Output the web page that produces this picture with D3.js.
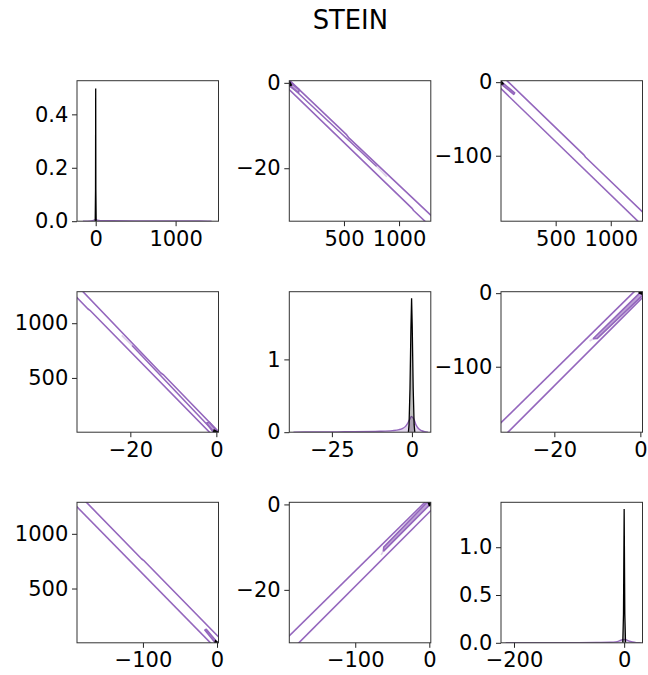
<!DOCTYPE html>
<html><head><meta charset="utf-8">
<script src="https://cdn.jsdelivr.net/npm/d3@7"></script>
<style>
html,body{margin:0;padding:0;background:#fff;}
svg text{font-family:"DejaVu Sans",sans-serif;}
</style></head>
<body><div id="chart"></div>
<script>
// ---------------- DATA ----------------
const title = "STEIN";
const varNames = ["var1", "var2", "var3"];
// axis limits of each variable in the off-diagonal panels
const var1Lim = [4, 1288];
const var2Lim = [-32.4, 0.5];
const var3Lim = [-189, 2];
// diagonal panel limits
const diag1XLim = [-234, 1537], diag1YLim = [0, 0.526];
const diag2XLim = [-38.3, 5.9], diag2YLim = [0, 1.93];
const diag3XLim = [-223.6, 33.3], diag3YLim = [0, 1.47];

// diagonal densities: purple = estimated, black = reference
const kde1X = [-160, -60, -20, 0, 20, 60, 200, 600, 1000, 1300, 1450];
const kde1Y = [0, 0.001, 0.004, 0.007, 0.004, 0.002, 0.0015, 0.0012, 0.001, 0.0008, 0];
const ref1X = [-6, -2, 0, 2, 6];
const ref1Y = [0, 0.12, 0.497, 0.12, 0];

const kde2X = [-37, -30, -20, -10, -6, -4, -3, -2, -1.5, -1, -0.5, -0.2, 0.3, 0.8, 1.2, 1.7, 2.3, 3.1, 4, 5];
const kde2Y = [0.001, 0.003, 0.006, 0.013, 0.022, 0.035, 0.05, 0.08, 0.11, 0.15, 0.19, 0.217, 0.2, 0.16, 0.11, 0.07, 0.04, 0.02, 0.006, 0.001];
const ref2X = [-1.1, -0.9, -0.6, -0.3, -0.1, 0.1, 0.4, 0.7, 0.9];
const ref2Y = [0, 0.1, 0.6, 1.45, 1.84, 1.45, 0.6, 0.1, 0];

const kde3X = [-215, -150, -100, -50, -25, -15, -8, -3, 0, 3, 8, 15, 22, 30];
const kde3Y = [0, 0.001, 0.002, 0.003, 0.005, 0.01, 0.022, 0.033, 0.035, 0.033, 0.02, 0.008, 0.002, 0];
const ref3X = [-2.5, -1.2, 0, 1.2, 2.5];
const ref3Y = [0, 0.3, 1.40, 0.3, 0];

// joint density contours, each point is [first variable, second variable]
// pair (var1, var2)
const c12Upper = [[-10, 0.98], [525, -12.2], [545, -12.9], [1300, -31.3]];
const c12Middle = [[6, -0.5], [797, -19.6]];
const c12MiddleFaint = [[797, -19.6], [889, -22.0]];
const c12Lower = [[-10, -1.25], [1118, -29.4], [1132, -29.9], [1300, -34.0]];
const c12Inner = [[6, 0.3], [95, -1.6], [88, -2.3], [3, -0.7], [6, 0.3]];
const c12Ref = [[4, 0.35], [22, -0.5], [10, -0.6], [4, 0.35]];
// pair (var1, var3)
const c13Upper = [[55, 2.5], [758, -99.2], [772, -102.0], [1300, -178]];
const c13Lower = [[-5, -7.6], [1260, -191]];
const c13Inner = [[12, 0], [128, -14.5], [120, -16.5], [5, -2.5], [12, 0]];
const c13Ref = [[4, 1.5], [22, -2], [8, -2.5], [4, 1.5]];
// pair (var2, var3)
const c23Upper = [[-33, -179.6], [-1.36, 2.5]];
const c23Lower = [[-31, -190.3], [0.6, -5.4]];
const c23Inner = [[-11.0, -62.0], [0.0, 1.0], [0.5, -3], [-10, -61.5], [-11.0, -62.0]];
const c23InnerFaint = [[-11.8, -65], [-10.6, -61]];
const c23Ref = [[-0.4, 0.5], [0.35, 1.8], [0.45, -1.2], [-0.4, 0.5]];

// tick values and labels per panel (row-major)
const xTickVals = [[0, 1000], [500, 1000], [500, 1000], [-20, 0], [-25, 0], [-20, 0], [-100, 0], [-100, 0], [-200, 0]];
const xTickLabels = [["0", "1000"], ["500", "1000"], ["500", "1000"], ["−20", "0"], ["−25", "0"], ["−20", "0"], ["−100", "0"], ["−100", "0"], ["−200", "0"]];
const yTickVals = [[0, 0.2, 0.4], [0, -20], [0, -100], [500, 1000], [0, 1], [0, -100], [500, 1000], [0, -20], [0, 0.5, 1.0]];
const yTickLabels = [["0.0", "0.2", "0.4"], ["0", "−20"], ["0", "−100"], ["500", "1000"], ["0", "1"], ["0", "−100"], ["500", "1000"], ["0", "−20"], ["0.0", "0.5", "1.0"]];

// ---------------- BUILD ----------------
const W = 648, H = 675;
const purple = "#9467bd";
const lims = [var1Lim, var2Lim, var3Lim];
const diagX = [diag1XLim, diag2XLim, diag3XLim];
const diagY = [diag1YLim, diag2YLim, diag3YLim];
const kdes = [[kde1X, kde1Y, ref1X, ref1Y], [kde2X, kde2Y, ref2X, ref2Y], [kde3X, kde3Y, ref3X, ref3Y]];
const pairContours = {
  "0-1": {lines: [c12Upper, c12Middle, c12Lower], inner: [c12Inner], faint: [c12MiddleFaint], ref: [c12Ref]},
  "0-2": {lines: [c13Upper, c13Lower], inner: [c13Inner], faint: [], ref: [c13Ref]},
  "1-2": {lines: [c23Upper, c23Lower], inner: [c23Inner], faint: [c23InnerFaint], ref: [c23Ref]}
};

const colLeft = [77, 289.3, 501];
const rowTop = [80.7, 291.7, 502.3];
const pw = 141.5, ph = 140.5;
const fontSize = 21;

const svg = d3.select("#chart").append("svg").attr("width", W).attr("height", H);
svg.append("rect").attr("width", W).attr("height", H).attr("fill", "#fff");

svg.append("text").attr("x", 350.3).attr("y", 29.3).attr("text-anchor", "middle")
  .attr("font-size", 25.8).attr("fill", "#000").text(title);

const defs = svg.append("defs");

for (let r = 0; r < 3; r++) {
  for (let c = 0; c < 3; c++) {
    const idx = r * 3 + c;
    const x0 = colLeft[c], y0 = rowTop[r];
    const g = svg.append("g").attr("transform", `translate(${x0},${y0})`);
    const clipId = `clip${idx}`;
    defs.append("clipPath").attr("id", clipId).append("rect").attr("width", pw).attr("height", ph);
    const plot = g.append("g").attr("clip-path", `url(#${clipId})`);
    let xs, ys;
    if (r === c) {
      xs = d3.scaleLinear().domain(diagX[r]).range([0, pw]);
      ys = d3.scaleLinear().domain(diagY[r]).range([ph, 0]);
      const [kx, ky, rx, ry] = kdes[r];
      const kd = kx.map((v, i) => [v, ky[i]]);
      const rd = rx.map((v, i) => [v, ry[i]]);
      const area = d3.area().x(d => xs(d[0])).y0(ys(0)).y1(d => ys(d[1])).curve(d3.curveMonotoneX);
      const line = d3.line().x(d => xs(d[0])).y(d => ys(d[1])).curve(d3.curveMonotoneX);
      plot.append("path").attr("d", area(kd)).attr("fill", purple).attr("fill-opacity", 0.25);
      plot.append("path").attr("d", line(kd)).attr("fill", "none").attr("stroke", purple).attr("stroke-width", 1.4);
      const rline = d3.line().x(d => xs(d[0])).y(d => ys(d[1]));
      const rarea = d3.area().x(d => xs(d[0])).y0(ys(0)).y1(d => ys(d[1]));
      plot.append("path").attr("d", rarea(rd)).attr("fill", "#000").attr("fill-opacity", 0.25);
      plot.append("path").attr("d", rline(rd)).attr("fill", "none").attr("stroke", "#000").attr("stroke-width", 1.3);
    } else {
      const xv = r, yv = c;
      xs = d3.scaleLinear().domain(lims[xv]).range([0, pw]);
      ys = d3.scaleLinear().domain(lims[yv]).range([ph, 0]);
      const a = Math.min(xv, yv), b = Math.max(xv, yv);
      const swap = xv > yv;
      const set = pairContours[`${a}-${b}`];
      const line = d3.line()
        .x(d => xs(swap ? d[1] : d[0]))
        .y(d => ys(swap ? d[0] : d[1]));
      set.faint.forEach(p => plot.append("path").attr("d", line(p)).attr("fill", "none")
        .attr("stroke", purple).attr("stroke-opacity", 0.3).attr("stroke-width", 1.6));
      set.lines.forEach(p => plot.append("path").attr("d", line(p)).attr("fill", "none")
        .attr("stroke", purple).attr("stroke-width", 1.6).attr("stroke-linejoin", "round"));
      set.inner.forEach(p => plot.append("path").attr("d", line(p)).attr("fill", purple)
        .attr("fill-opacity", 0.6).attr("stroke", purple).attr("stroke-width", 1.6)
        .attr("stroke-linejoin", "round"));
      set.ref.forEach(p => plot.append("path").attr("d", line(p)).attr("fill", "#000")
        .attr("stroke", "#000").attr("stroke-width", 1.6));
    }
    // axes
    const xa = d3.axisBottom(xs).tickValues(xTickVals[idx])
      .tickFormat((d, i) => xTickLabels[idx][i]).tickSize(5).tickSizeOuter(0).tickPadding(4.5);
    const ya = d3.axisLeft(ys).tickValues(yTickVals[idx])
      .tickFormat((d, i) => yTickLabels[idx][i]).tickSize(5).tickSizeOuter(0).tickPadding(3.7);
    const gx = g.append("g").attr("transform", `translate(0,${ph})`).call(xa);
    const gy = g.append("g").call(ya);
    [gx, gy].forEach(ax => {
      ax.select(".domain").remove();
      ax.selectAll("line").attr("stroke", "#222").attr("stroke-width", 1);
      ax.selectAll("text").attr("font-size", fontSize).attr("fill", "#000")
        .attr("font-family", "DejaVu Sans, sans-serif");
    });
    g.append("rect").attr("width", pw).attr("height", ph).attr("fill", "none")
      .attr("stroke", "#333").attr("stroke-width", 1);
  }
}
</script>
</body></html>
